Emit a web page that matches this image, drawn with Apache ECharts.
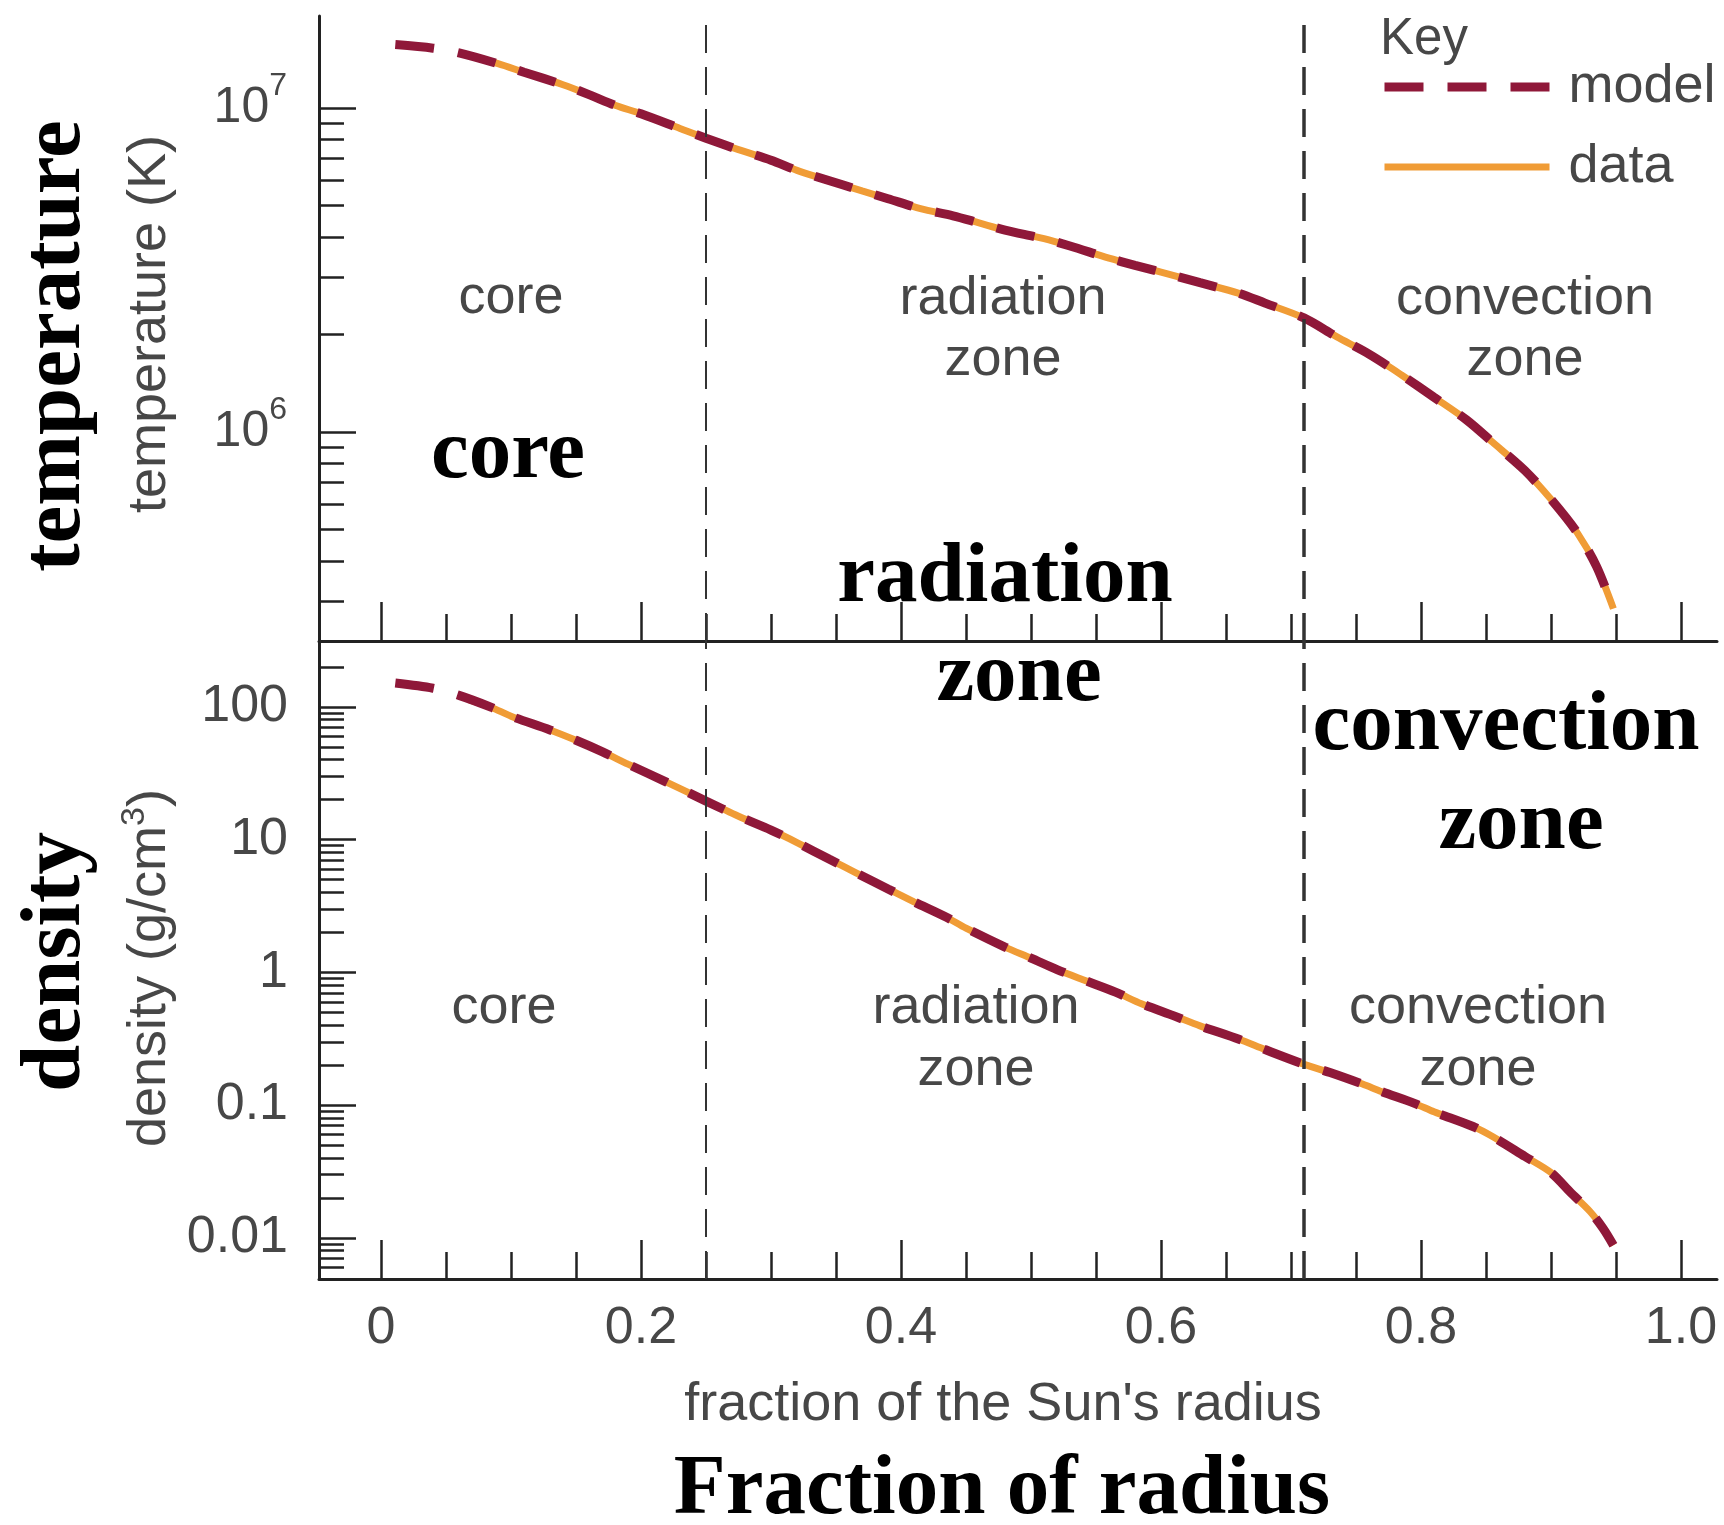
<!DOCTYPE html>
<html>
<head>
<meta charset="utf-8">
<script src="https://cdn.jsdelivr.net/npm/echarts@6/dist/echarts.min.js"></script>
<style>
html,body{margin:0;padding:0;background:#ffffff;}
#chart{width:1724px;height:1525px;}
</style>
</head>
<body>
<div id="chart"></div>
<script>
// ---------------- data ----------------
const tempModelRadius = [0.011,0.04,0.06,0.09,0.11,0.14,0.16,0.18,0.20,0.23,0.25,0.275,0.30,0.32,0.34,0.37,0.39,0.415,0.44,0.46,0.48,0.51,0.53,0.56,0.58,0.61,0.63,0.66,0.68,0.71,0.735,0.76,0.785,0.81,0.835,0.855,0.88,0.90,0.92,0.935,0.948];
const tempModelK = [1.57e7,1.53e7,1.48e7,1.37e7,1.29e7,1.18e7,1.10e7,1.02e7,9.6e6,8.65e6,8.07e6,7.44e6,6.9e6,6.42e6,6.05e6,5.55e6,5.25e6,4.89e6,4.65e6,4.42e6,4.2e6,3.95e6,3.75e6,3.44e6,3.27e6,3.04e6,2.89e6,2.68e6,2.5e6,2.25e6,1.97e6,1.74e6,1.5e6,1.28e6,1.09e6,9.3e5,7.6e5,6.2e5,4.9e5,3.85e5,2.85e5];

const tempDataRadius = [0.068,0.09,0.11,0.14,0.16,0.18,0.20,0.23,0.25,0.275,0.30,0.32,0.34,0.37,0.39,0.415,0.44,0.46,0.48,0.51,0.53,0.56,0.58,0.61,0.63,0.66,0.68,0.71,0.735,0.76,0.785,0.81,0.835,0.855,0.88,0.90,0.92,0.935,0.948];
const tempDataK = [1.45e7,1.37e7,1.29e7,1.18e7,1.10e7,1.02e7,9.6e6,8.65e6,8.07e6,7.44e6,6.9e6,6.42e6,6.05e6,5.55e6,5.25e6,4.89e6,4.65e6,4.42e6,4.2e6,3.95e6,3.75e6,3.44e6,3.27e6,3.04e6,2.89e6,2.68e6,2.5e6,2.25e6,1.97e6,1.74e6,1.5e6,1.28e6,1.09e6,9.3e5,7.6e5,6.2e5,4.9e5,3.85e5,2.85e5];

const densModelRadius = [0.011,0.04,0.06,0.085,0.10,0.13,0.15,0.17,0.19,0.22,0.25,0.275,0.30,0.32,0.345,0.365,0.39,0.41,0.435,0.45,0.48,0.50,0.52,0.54,0.565,0.585,0.61,0.63,0.66,0.68,0.71,0.73,0.755,0.77,0.795,0.81,0.84,0.855,0.88,0.90,0.915,0.93,0.94,0.948];
const densModelGcm3 = [151,138,122,99,85,67,56,46,37,27,19.5,15,11.8,9.5,7.1,5.65,4.25,3.4,2.6,2.15,1.55,1.28,1.05,0.88,0.71,0.58,0.47,0.395,0.313,0.262,0.203,0.176,0.144,0.126,0.103,0.089,0.069,0.058,0.041,0.031,0.022,0.0158,0.0118,0.0088];

const densDataRadius = [0.068,0.085,0.10,0.13,0.15,0.17,0.19,0.22,0.25,0.275,0.30,0.32,0.345,0.365,0.39,0.41,0.435,0.45,0.48,0.50,0.52,0.54,0.565,0.585,0.61,0.63,0.66,0.68,0.71,0.73,0.755,0.77,0.795,0.81,0.84,0.855,0.88,0.90,0.915,0.93,0.94,0.948];
const densDataGcm3 = [113,99,85,67,56,46,37,27,19.5,15,11.8,9.5,7.1,5.65,4.25,3.4,2.6,2.15,1.55,1.28,1.05,0.88,0.71,0.58,0.47,0.395,0.313,0.262,0.203,0.176,0.144,0.126,0.103,0.089,0.069,0.058,0.041,0.031,0.022,0.0158,0.0118,0.0088];

const zoneBoundaries = [0.25, 0.71];

// ---------------- ticks / labels ----------------
const xMajorTicks = [0, 0.2, 0.4, 0.6, 0.8, 1.0];
const xTickLabels = ['0', '0.2', '0.4', '0.6', '0.8', '1.0'];
const xMinorTicks = [0.05,0.1,0.15,0.25,0.3,0.35,0.45,0.5,0.55,0.65,0.7,0.75,0.85,0.9,0.95];

const tempMajorTicks = [1e6, 1e7];
const tempTickExponents = ['6', '7'];
const tempMinorTicks = [3e5,4e5,5e5,6e5,7e5,8e5,9e5,2e6,3e6,4e6,5e6,6e6,7e6,8e6,9e6];

const densMajorTicks = [0.01, 0.1, 1, 10, 100];
const densTickLabels = ['0.01', '0.1', '1', '10', '100'];
const densMinorTicks = [0.006,0.007,0.008,0.009,
  0.02,0.03,0.04,0.05,0.06,0.07,0.08,0.09,
  0.2,0.3,0.4,0.5,0.6,0.7,0.8,0.9,
  2,3,4,5,6,7,8,9,
  20,30,40,50,60,70,80,90,
  200];

// ---------------- layout / style ----------------
const lg = Math.log10;
const X_MIN = -0.0477, X_MAX = 1.0277;
const TOP_MIN = 5.355, TOP_MAX = 7.284;
const BOT_MIN = -2.31, BOT_MAX = 2.496;
const RED = '#8f1839';
const ORANGE = '#f09c36';
const AXIS = '#222222';
const TXT = '#474747';
const SANS = '"Liberation Sans", Arial, Helvetica, sans-serif';
const SERIF = '"Liberation Serif", "Times New Roman", serif';
const THIN = 54;

function findIdx(arr, v) {
  return arr.findIndex(t => Math.abs(lg(t) - v) < 1e-6);
}
function findIdxLin(arr, v) {
  return arr.findIndex(t => Math.abs(t - v) < 1e-6);
}

function xAxisDef(gridIndex, ticks, len, showLine, showLabels) {
  return {
    type: 'value', gridIndex, min: X_MIN, max: X_MAX, position: 'bottom',
    axisLine: { show: showLine, onZero: false, lineStyle: { color: AXIS, width: 3 } },
    axisTick: { show: true, inside: true, length: len, customValues: ticks,
                lineStyle: { color: AXIS, width: 2.5 } },
    axisLabel: showLabels ? {
      show: true, customValues: ticks, margin: 24, fontSize: 52, color: TXT, fontFamily: SANS,
      formatter: v => xTickLabels[findIdxLin(xMajorTicks, v)]
    } : { show: false },
    splitLine: { show: false }
  };
}

function yAxisDef(gridIndex, min, max, ticks, len, showLine, label) {
  return {
    type: 'value', gridIndex, min, max, position: 'left',
    axisLine: { show: showLine, onZero: false, lineStyle: { color: AXIS, width: 3 } },
    axisTick: { show: true, inside: true, length: len, customValues: ticks.map(lg),
                lineStyle: { color: AXIS, width: 2.5 } },
    axisLabel: label ? Object.assign({ show: true, customValues: ticks.map(lg) }, label) : { show: false },
    splitLine: { show: false }
  };
}

const markLines = {
  silent: true, symbol: ['none', 'none'], animation: false,
  label: { show: false },
  data: zoneBoundaries.map((v, i) => ({
    xAxis: v,
    lineStyle: { color: '#333333', width: i === 0 ? 2 : 3.5, type: [28, 14] }
  }))
};

function textEl(text, x, y, size, opts) {
  opts = opts || {};
  return {
    type: 'text', x, y, rotation: opts.rot || 0, silent: true,
    style: {
      text, x: 0, y: 0,
      align: opts.align || 'center', verticalAlign: 'middle',
      textAlign: opts.align || 'center', textVerticalAlign: 'middle',
      fontSize: size, fontFamily: opts.bold ? SERIF : SANS,
      fontWeight: opts.bold ? 'bold' : 'normal',
      fill: opts.bold ? '#000000' : TXT,
      rich: opts.rich
    }
  };
}

const chart = echarts.init(document.getElementById('chart'), null, { renderer: 'canvas' });

const option = {
  animation: false,
  backgroundColor: '#ffffff',
  grid: [
    { left: 319, top: 16, width: 1398, height: 625, containLabel: false, outerBoundsMode: 'none' },
    { left: 319, top: 641, width: 1398, height: 638, containLabel: false, outerBoundsMode: 'none' }
  ],
  xAxis: [
    xAxisDef(0, xMinorTicks, 27, true, false),
    xAxisDef(0, xMajorTicks, 39, false, false),
    xAxisDef(1, xMinorTicks, 27, true, false),
    xAxisDef(1, xMajorTicks, 39, false, true)
  ],
  yAxis: [
    yAxisDef(0, TOP_MIN, TOP_MAX, tempMajorTicks, 37, true, {
      margin: 32, color: TXT, fontFamily: SANS,
      formatter: v => '{b|10}{s|' + tempTickExponents[findIdx(tempMajorTicks, v)] + '}',
      rich: {
        b: { fontSize: 50, lineHeight: 76, color: TXT, fontFamily: SANS },
        s: { fontSize: 32, lineHeight: 42, verticalAlign: 'top', color: TXT, fontFamily: SANS }
      }
    }),
    yAxisDef(0, TOP_MIN, TOP_MAX, tempMinorTicks, 25, false, null),
    yAxisDef(1, BOT_MIN, BOT_MAX, densMajorTicks, 37, true, {
      margin: 31, fontSize: 52, color: TXT, fontFamily: SANS,
      formatter: v => densTickLabels[findIdx(densMajorTicks, v)]
    }),
    yAxisDef(1, BOT_MIN, BOT_MAX, densMinorTicks, 25, false, null)
  ],
  legend: {
    orient: 'vertical', left: 1380, top: 60, padding: 0,
    itemWidth: 165, itemHeight: 12, itemGap: 26,
    selectedMode: false,
    itemStyle: { opacity: 0 },
    textStyle: { fontSize: THIN, lineHeight: 54, color: TXT, fontFamily: SANS, padding: [0, 0, 0, 14] },
    data: [
      { name: 'model', lineStyle: { width: 9 } },
      { name: 'data', lineStyle: { width: 7 } }
    ]
  },
  series: [
    {
      name: 'data', type: 'line', xAxisIndex: 0, yAxisIndex: 0, z: 2,
      data: tempDataRadius.map((r, i) => [r, lg(tempDataK[i])]),
      symbol: 'none', smooth: 0.3,
      lineStyle: { color: ORANGE, width: 7 }, itemStyle: { color: ORANGE },
      markLine: markLines
    },
    {
      name: 'model', type: 'line', xAxisIndex: 0, yAxisIndex: 0, z: 3,
      data: tempModelRadius.map((r, i) => [r, lg(tempModelK[i])]),
      symbol: 'none', smooth: 0.3,
      lineStyle: { color: RED, width: 9, type: [39, 24] }, itemStyle: { color: RED }
    },
    {
      name: 'data', type: 'line', xAxisIndex: 2, yAxisIndex: 2, z: 2,
      data: densDataRadius.map((r, i) => [r, lg(densDataGcm3[i])]),
      symbol: 'none', smooth: 0.3,
      lineStyle: { color: ORANGE, width: 7 }, itemStyle: { color: ORANGE },
      markLine: markLines
    },
    {
      name: 'model', type: 'line', xAxisIndex: 2, yAxisIndex: 2, z: 3,
      data: densModelRadius.map((r, i) => [r, lg(densModelGcm3[i])]),
      symbol: 'none', smooth: 0.3,
      lineStyle: { color: RED, width: 9, type: [39, 24] }, itemStyle: { color: RED }
    }
  ],
  graphic: [
    // key title
    textEl('Key', 1380, 40, 51, { align: 'left' }),
    // axis titles (thin)
    textEl('temperature (K)', 150, 324, THIN, { rot: Math.PI / 2 }),
    textEl('{a|density (g/cm}{s|3}{a|)}', 150, 968, THIN, {
      rot: Math.PI / 2,
      rich: {
        a: { fontSize: THIN, lineHeight: 64, fill: TXT, color: TXT, fontFamily: SANS },
        s: { fontSize: 34, lineHeight: 42, verticalAlign: 'top', fill: TXT, color: TXT, fontFamily: SANS }
      }
    }),
    textEl("fraction of the Sun's radius", 1003, 1405, THIN),
    // zone labels (thin), top panel
    textEl('core', 511, 298, THIN),
    textEl('radiation', 1003, 299, THIN),
    textEl('zone', 1003, 360, THIN),
    textEl('convection', 1525, 299, THIN),
    textEl('zone', 1525, 360, THIN),
    // zone labels (thin), bottom panel
    textEl('core', 504, 1008, THIN),
    textEl('radiation', 976, 1008, THIN),
    textEl('zone', 976, 1070, THIN),
    textEl('convection', 1478, 1008, THIN),
    textEl('zone', 1478, 1070, THIN),
    // bold overlay labels
    textEl('temperature', 57, 346, 85, { rot: Math.PI / 2, bold: true }),
    textEl('density', 57, 962, 85, { rot: Math.PI / 2, bold: true }),
    textEl('core', 508, 455, 85, { bold: true }),
    textEl('radiation', 1005, 579, 85, { bold: true }),
    textEl('zone', 1019, 678, 85, { bold: true }),
    textEl('convection', 1506, 727, 85, { bold: true }),
    textEl('zone', 1521, 826, 85, { bold: true }),
    textEl('Fraction of radius', 1002, 1491, 85, { bold: true })
  ]
};

chart.setOption(option);
</script>
</body>
</html>
